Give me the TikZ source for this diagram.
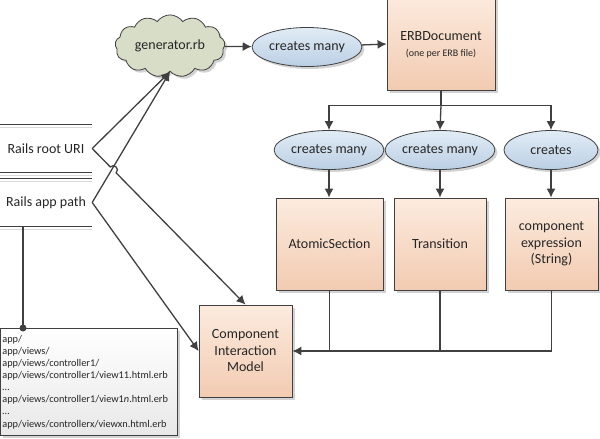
\documentclass[tikz,border=0pt]{standalone}
\usepackage{fontspec}
\setmainfont{Carlito}
\usetikzlibrary{shapes.geometric,shapes.symbols,shadows,calc,arrows.meta}

\definecolor{boxtop}{RGB}{252,235,223}
\definecolor{boxbot}{RGB}{242,203,177}
\definecolor{elltop}{RGB}{226,236,246}
\definecolor{ellbot}{RGB}{186,207,228}
\definecolor{cloudfill}{RGB}{216,221,199}
\definecolor{ink}{RGB}{64,64,64}

\tikzset{%
  base/.style={font=\fontsize{14}{16.5}\selectfont, text=black!85, draw=ink, line width=0.8pt, align=center, drop shadow={shadow xshift=2.5pt, shadow yshift=-2.5pt, opacity=0.35}},
  objet/.style={base, rectangle, top color=boxtop, bottom color=boxbot, minimum height=92pt, inner sep=2pt},
  relation/.style={base, ellipse, top color=elltop, bottom color=ellbot, minimum width=94pt, minimum height=39pt, inner sep=1pt},
  nuage/.style={base, cloud, cloud puffs=13, cloud puff arc=110, aspect=2, fill=cloudfill, minimum width=110pt, minimum height=60pt, inner sep=1pt},
  stock/.style={font=\fontsize{14}{16.5}\selectfont, text=black!85, minimum width=92pt, minimum height=47pt, inner sep=0pt},
  liste/.style={draw=ink, line width=0.8pt, rectangle, top color=white, bottom color=black!9, minimum width=177pt, minimum height=107pt, text width=173pt, inner xsep=2pt, align=left, font=\fontsize{10.3}{12.1}\selectfont, text=black!85, drop shadow={shadow xshift=2.5pt, shadow yshift=-2.5pt, opacity=0.35}},
  line/.style={draw, line width=1.3pt, color=ink, -{Latex[length=9pt,width=9pt]}},
  trait/.style={draw, line width=1.3pt, color=ink},
  ombre/.style={draw, line width=0.8pt, color=black!15},
  filet/.style={draw, line width=0.8pt, color=ink},
}

\begin{document}
\begin{tikzpicture}[x=1pt, y=-1pt]
\useasboundingbox (0,0) rectangle (600,439);

% generator and the ERB documents
\node[nuage] (gen) at (170,46) {generator.rb};
\node[relation] (cm) at (307,47) {creates many};
\node[objet, minimum width=108pt, minimum height=96pt] (erb) at (441,42) {\mbox{}\\[-2pt]ERBDocument\\{\fontsize{10}{12}\selectfont (one per ERB file)}};
\draw[line] (gen) -- (cm);
\draw[line] (cm) -- (erb);

% what each ERB document creates
\node[relation] (cmA) at (329,150) {creates many};
\node[relation] (cmB) at (440,150) {creates many};
\node[relation] (cmC) at (551,150) {creates};
\coordinate (fork) at ($(erb.south)+(0,15)$);
\draw[trait] (erb.south) -- (fork);
\draw[line] (fork) -| (cmA.north);
\draw[line] (fork) -- (cmB.north);
\draw[line] (fork) -| (cmC.north);

\node[objet, minimum width=107pt] (atom) at (329.5,244) {AtomicSection};
\node[objet, minimum width=92pt] (trans) at (440,244) {Transition};
\node[objet, minimum width=93pt] (expr) at (551.5,244) {component\\expression\\(String)};
\draw[line] (cmA.south) -- (cmA.south |- atom.north);
\draw[line] (cmB.south) -- (cmB.south |- trans.north);
\draw[line] (cmC.south) -- (cmC.south |- expr.north);

% the model
\node[objet, minimum width=93pt] (cim) at (245.5,351) {Component\\Interaction\\Model};
\draw[line] (expr.south) |- (cim.east);
\draw[trait] (atom.south) -- (atom.south |- cim.east);
\draw[trait] (trans.south) -- (trans.south |- cim.east);

% inputs
\node[stock] (uri) at (46,148.5) {Rails root URI};
\node[stock] (app) at (46,202.5) {Rails app path};
\foreach \s in {uri,app} {
  \draw[ombre] ($(\s.north west)+(0,3)$) -- ($(\s.north east)+(0,3)$);
  \draw[ombre] ($(\s.south west)+(0,3)$) -- ($(\s.south east)+(0,3)$);
  \draw[filet] (\s.north west) -- (\s.north east);
  \draw[filet] (\s.south west) -- (\s.south east);
}
\coordinate (h1) at ($(uri.east)!0.118!(cim.north)$);
\coordinate (h2) at ($(uri.east)!0.156!(cim.north)$);
\draw[line] (uri.east) -- (gen.south);
\draw[line] (app.east) -- (gen.south);
\draw[line] (uri.east) -- (h1) .. controls ($(h1)!5.5pt!90:(cim.north)$) and ($(h2)!5.5pt!-90:(uri.east)$) .. (h2) -- (cim.north);
\draw[line] (app.east) -- (cim.west);

% files of the app
\node[liste, anchor=north west] (files) at (0,328) {app/\\app/views/\\app/views/controller1/\\app/views/controller1/view11.html.erb\\\dots\\app/views/controller1/view1\textit{n}.html.erb\\\dots\\app/views/controllerx/viewxn.html.erb};
\coordinate (tap) at ($(files.north west)+(23,0)$);
\draw[trait] (tap |- app.south) -- (tap);
\fill[ink] (tap) circle (3.5pt);
\end{tikzpicture}
\end{document}
